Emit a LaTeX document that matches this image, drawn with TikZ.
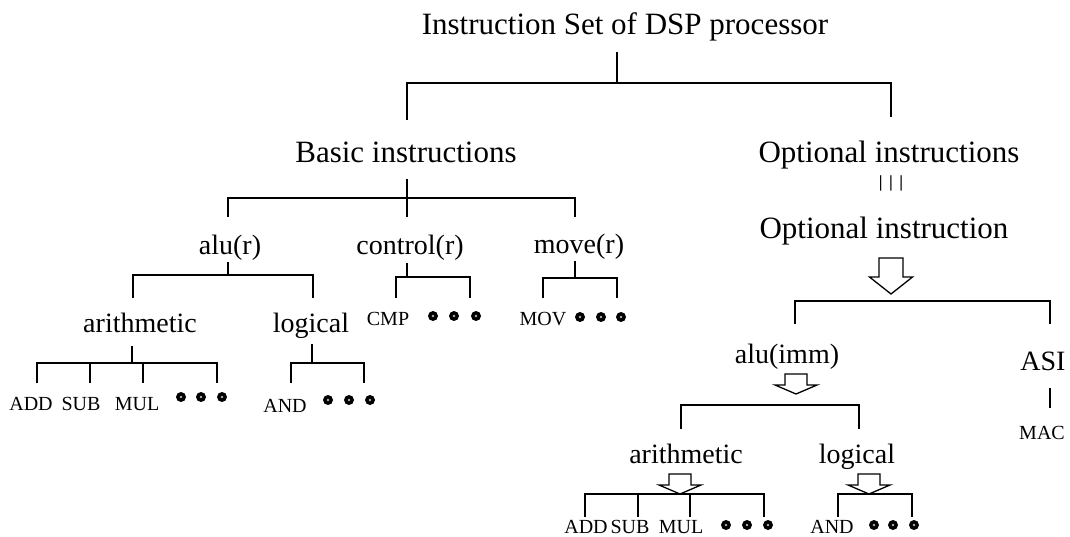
\documentclass[tikz,border=0pt]{standalone}
\usepackage{fontspec}
\setmainfont{Liberation Serif}
\begin{document}
\begin{tikzpicture}[x=1pt,y=-1pt,
  lvA/.style={font=\fontsize{31}{31}\selectfont, anchor=base, inner sep=0pt},
  lvB/.style={font=\fontsize{28}{28}\selectfont, anchor=base, inner sep=0pt},
  lvC/.style={font=\fontsize{20}{20}\selectfont, anchor=base, inner sep=0pt},
  ln/.style={line width=1.3pt},
  dotpic/.pic={\fill[black] (0,0) circle (5); \fill[gray!60] (0,0) circle (1.3);},
  bigarrow/.pic={\draw[line width=1.3pt, fill=white, line join=miter]
     (-12,-36) -- (12,-36) -- (12,-17) -- (21.5,-17) -- (0,0) -- (-21.5,-17) -- (-12,-17) -- cycle;},
  smallarrow/.pic={\draw[line width=1.3pt, fill=white, line join=miter]
     (-11,-20) -- (11,-20) -- (11,-9) -- (21,-9) -- (0,0) -- (-21,-9) -- (-11,-9) -- cycle;}
]
\useasboundingbox (0,0) rectangle (1070,536);

% ---------- text nodes ----------
\node[lvA] (title) at (625,34) {Instruction Set of DSP processor};
\node[lvA] (basic) at (406,162) {Basic instructions};
\node[lvA] (opts) at (889,162) {Optional instructions};
\node[font=\fontsize{17}{17}\selectfont\bfseries, anchor=base, inner sep=0pt] (eqv) at (891,187) {|\hspace{6.5pt}|\hspace{6.5pt}|};
\node[lvA] (opt) at (884,238) {Optional instruction};

\node[lvB] (alur) at (230,254) {alu(r)};
\node[lvB] (ctrl) at (410,254) {control(r)};
\node[lvB] (mover) at (579,253) {move(r)};

\node[lvB] (arl) at (140,332) {arithmetic};
\node[lvB] (logl) at (311,332) {logical};
\node[lvC] (cmp) at (388,325) {CMP};
\node[lvC] (mov) at (543,325) {MOV};

\node[lvC] (addl) at (31,410) {ADD};
\node[lvC] (subl) at (81,410) {SUB};
\node[lvC] (mull) at (137,410) {MUL};
\node[lvC] (andl) at (285,412) {AND};

\node[lvB] (aluimm) at (787,363) {alu(imm)};
\node[lvB] (asi) at (1043,370) {ASI};
\node[lvC] (mac) at (1042,439) {MAC};

\node[lvB] (arr) at (686,463) {arithmetic};
\node[lvB] (logr) at (857,463) {logical};
\node[lvC] (addr) at (586,533) {ADD};
\node[lvC] (subr) at (630,533) {SUB};
\node[lvC] (mulr) at (681,533) {MUL};
\node[lvC] (andr) at (832,533) {AND};

% ---------- dots ----------
\foreach \x in {433,454,476} \pic at (\x,316) {dotpic};
\foreach \x in {580,601,621} \pic at (\x,317) {dotpic};
\foreach \x in {181,201,222} \pic at (\x,397) {dotpic};
\foreach \x in {328,349,370} \pic at (\x,400) {dotpic};
\foreach \x in {726,747,768} \pic at (\x,525) {dotpic};
\foreach \x in {874,893,914} \pic at (\x,525) {dotpic};

% ---------- brackets ----------
% title
\coordinate (Ts) at (617,52);
\coordinate (Tb1) at (407,83); \coordinate (Tb2) at (891,83);
\coordinate (Tc1) at (407,120); \coordinate (Tc2) at (891,117);
\draw[ln] (Ts) -- (Ts |- Tb1);
\draw[ln] (Tc1) -- (Tb1) -- (Tb2) -- (Tc2);

% basic instructions
\coordinate (Bs) at (407,179);
\coordinate (Bb1) at (228,198); \coordinate (Bb2) at (575,198);
\coordinate (Bc1) at (228,217); \coordinate (Bc2) at (575,217); \coordinate (Bcm) at (407,217);
\draw[ln] (Bs) -- (Bcm);
\draw[ln] (Bc1) -- (Bb1) -- (Bb2) -- (Bc2);

% alu(r)
\coordinate (ARs) at (228,262);
\coordinate (ARb1) at (133,275); \coordinate (ARb2) at (313,275);
\coordinate (ARc1) at (133,298); \coordinate (ARc2) at (313,298);
\draw[ln] (ARs) -- (ARs |- ARb1);
\draw[ln] (ARc1) -- (ARb1) -- (ARb2) -- (ARc2);

% control(r)
\coordinate (CRs) at (407,263);
\coordinate (CRb1) at (396,277); \coordinate (CRb2) at (470,277);
\coordinate (CRc1) at (396,298); \coordinate (CRc2) at (470,298);
\draw[ln] (CRs) -- (CRs |- CRb1);
\draw[ln] (CRc1) -- (CRb1) -- (CRb2) -- (CRc2);

% move(r)
\coordinate (MRs) at (575,261);
\coordinate (MRb1) at (543,278); \coordinate (MRb2) at (617,278);
\coordinate (MRc1) at (543,298); \coordinate (MRc2) at (617,298);
\draw[ln] (MRs) -- (MRs |- MRb1);
\draw[ln] (MRc1) -- (MRb1) -- (MRb2) -- (MRc2);

% arithmetic (left)
\coordinate (ALs) at (132,346);
\coordinate (ALb1) at (37,363); \coordinate (ALb2) at (217,363);
\coordinate (ALc1) at (37,383); \coordinate (ALc2) at (217,383);
\coordinate (ALc3) at (90,383); \coordinate (ALc4) at (143,383);
\draw[ln] (ALs) -- (ALs |- ALb1);
\draw[ln] (ALc1) -- (ALb1) -- (ALb2) -- (ALc2);
\draw[ln] (ALc3) -- (ALc3 |- ALb1);
\draw[ln] (ALc4) -- (ALc4 |- ALb1);

% logical (left)
\coordinate (LLs) at (312,344);
\coordinate (LLb1) at (291,363); \coordinate (LLb2) at (364,363);
\coordinate (LLc1) at (291,383); \coordinate (LLc2) at (364,383);
\draw[ln] (LLs) -- (LLs |- LLb1);
\draw[ln] (LLc1) -- (LLb1) -- (LLb2) -- (LLc2);

% optional instruction
\pic at (891,294) {bigarrow};
\coordinate (Ob1) at (795,301); \coordinate (Ob2) at (1050,301);
\coordinate (Oc1) at (795,324); \coordinate (Oc2) at (1050,324);
\draw[ln] (Oc1) -- (Ob1) -- (Ob2) -- (Oc2);

% ASI -> MAC
\coordinate (As) at (1050,388); \coordinate (Ae) at (1050,408);
\draw[ln] (As) -- (Ae);

% alu(imm)
\pic at (796,394) {smallarrow};
\coordinate (AIb1) at (681,405); \coordinate (AIb2) at (859,405);
\coordinate (AIc1) at (681,429); \coordinate (AIc2) at (859,429);
\draw[ln] (AIc1) -- (AIb1) -- (AIb2) -- (AIc2);

% arithmetic (right)
\coordinate (RAb1) at (585,494); \coordinate (RAb2) at (764,494);
\coordinate (RAc1) at (585,517); \coordinate (RAc2) at (764,517);
\coordinate (RAc3) at (638,517); \coordinate (RAc4) at (690,517);
\draw[ln] (RAc1) -- (RAb1) -- (RAb2) -- (RAc2);
\draw[ln] (RAc3) -- (RAc3 |- RAb1);
\draw[ln] (RAc4) -- (RAc4 |- RAb1);
\pic at (680,494) {smallarrow};

% logical (right)
\coordinate (RLb1) at (838,494); \coordinate (RLb2) at (912,494);
\coordinate (RLc1) at (838,517); \coordinate (RLc2) at (912,517);
\draw[ln] (RLc1) -- (RLb1) -- (RLb2) -- (RLc2);
\pic at (869,494) {smallarrow};
\end{tikzpicture}
\end{document}
